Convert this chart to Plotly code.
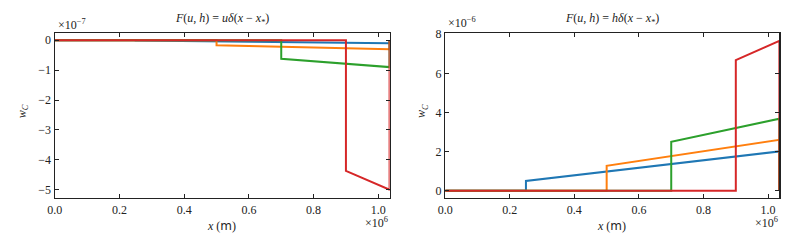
import plotly.graph_objects as go

# ---- data (x in metres, y in native units) ----
L = 1.035e6
x_star = [0.25e6, 0.5e6, 0.7e6, 0.9e6]
colors = ["#1f77b4", "#ff7f0e", "#2ca02c", "#d62728"]

# left panel: F = u delta(x - x*)  (values in 1e-7)
u_jump = [-0.01, -0.17, -0.62, -4.37]
u_end = [-0.10, -0.30, -0.90, -5.00]
# right panel: F = h delta(x - x*)  (values in 1e-6)
h_jump = [0.50, 1.27, 2.50, 6.68]
h_end = [2.01, 2.60, 3.68, 7.66]

x_ticks = [0.0, 0.2e6, 0.4e6, 0.6e6, 0.8e6, 1.0e6]
x_ticktext = ["0.0", "0.2", "0.4", "0.6", "0.8", "1.0"]
yl_ticks = [0, -1, -2, -3, -4, -5]
yr_ticks = [0, 2, 4, 6, 8]

SERIF = "Liberation Serif, DejaVu Serif, serif"
fig = go.Figure()

def series(xs, jump, end, scale):
    xx = [0, xs, xs, L, L]
    yy = [0, 0, jump * scale, end * scale, 0]
    return xx, yy

for i in range(4):
    xx, yy = series(x_star[i], u_jump[i], u_end[i], 1e-7)
    fig.add_trace(go.Scatter(x=xx, y=yy, mode="lines", line=dict(color=colors[i], width=2),
                             xaxis="x", yaxis="y", showlegend=False, hoverinfo="skip"))
for i in range(4):
    xx, yy = series(x_star[i], h_jump[i], h_end[i], 1e-6)
    fig.add_trace(go.Scatter(x=xx, y=yy, mode="lines", line=dict(color=colors[i], width=2),
                             xaxis="x2", yaxis="y2", showlegend=False, hoverinfo="skip"))

W, H = 789, 242
top, bot = 28, 197
ydom = [1 - bot / H, 1 - top / H]
xdom1 = [47.3 / W, 385.5 / W]
xdom2 = [441.7 / W, 779.3 / W]

axcommon = dict(showgrid=False, zeroline=False, showline=True, linecolor="#222", linewidth=1.3,
                mirror="allticks", ticks="inside", ticklen=4, tickwidth=1, tickcolor="#222",
                tickfont=dict(family=SERIF, size=12, color="#222"))

fig.update_layout(
    width=W, height=H, autosize=False, margin=dict(l=0, r=0, t=0, b=0),
    plot_bgcolor="white", paper_bgcolor="white",
    xaxis=dict(domain=xdom1, range=[0, L], tickvals=x_ticks, ticktext=x_ticktext, anchor="y", **axcommon),
    yaxis=dict(domain=ydom, range=[-5.28e-7, 0.23e-7], tickvals=[v * 1e-7 for v in yl_ticks],
               ticktext=[str(v).replace("-", "−") for v in yl_ticks], anchor="x", **axcommon),
    xaxis2=dict(domain=xdom2, range=[0, L], tickvals=x_ticks, ticktext=x_ticktext, anchor="y2", **axcommon),
    yaxis2=dict(domain=ydom, range=[-0.38e-6, 8.05e-6], tickvals=[v * 1e-6 for v in yr_ticks],
                ticktext=[str(v) for v in yr_ticks], anchor="x2", **axcommon),
)

def ann(text, x, y, size=12, xanchor="center", yanchor="middle", angle=0):
    fig.add_annotation(text=text, x=x / W, y=1 - y / H, xref="paper", yref="paper",
                       showarrow=False, xanchor=xanchor, yanchor=yanchor, textangle=angle,
                       font=dict(family=SERIF, size=size, color="#222"))

ann("<i>F</i>(<i>u</i>, <i>h</i>) = <i>uδ</i>(<i>x</i> − <i>x</i><sub>*</sub>)", 216, 13)
ann("<i>F</i>(<i>u</i>, <i>h</i>) = <i>hδ</i>(<i>x</i> − <i>x</i><sub>*</sub>)", 610, 13)
ann("×10<sup>−7</sup>", 48, 19, xanchor="left")
ann("×10<sup>−6</sup>", 442, 17, xanchor="left")
ann("×10<sup>6</sup>", 386, 222, xanchor="right")
ann("×10<sup>6</sup>", 780, 222, xanchor="right")
m = "<span style='font-family:DejaVu Sans'>m</span>"
ann("<i>x</i> (" + m + ")", 216, 226)
ann("<i>x</i> (" + m + ")", 610, 226)
ann("<i>w</i><sub><i>C</i></sub>", 15, 108, angle=-90)
ann("<i>w</i><sub><i>C</i></sub>", 419, 108, angle=-90)

fig.write_html("out.html", config={"displayModeBar": False, "staticPlot": True})
with open("out.html", "r", encoding="utf-8") as f:
    html = f.read()
html = html.replace("<head>", "<head><style>html,body{margin:0;padding:0;overflow:hidden;}</style>", 1)
with open("out.html", "w", encoding="utf-8") as f:
    f.write(html)
